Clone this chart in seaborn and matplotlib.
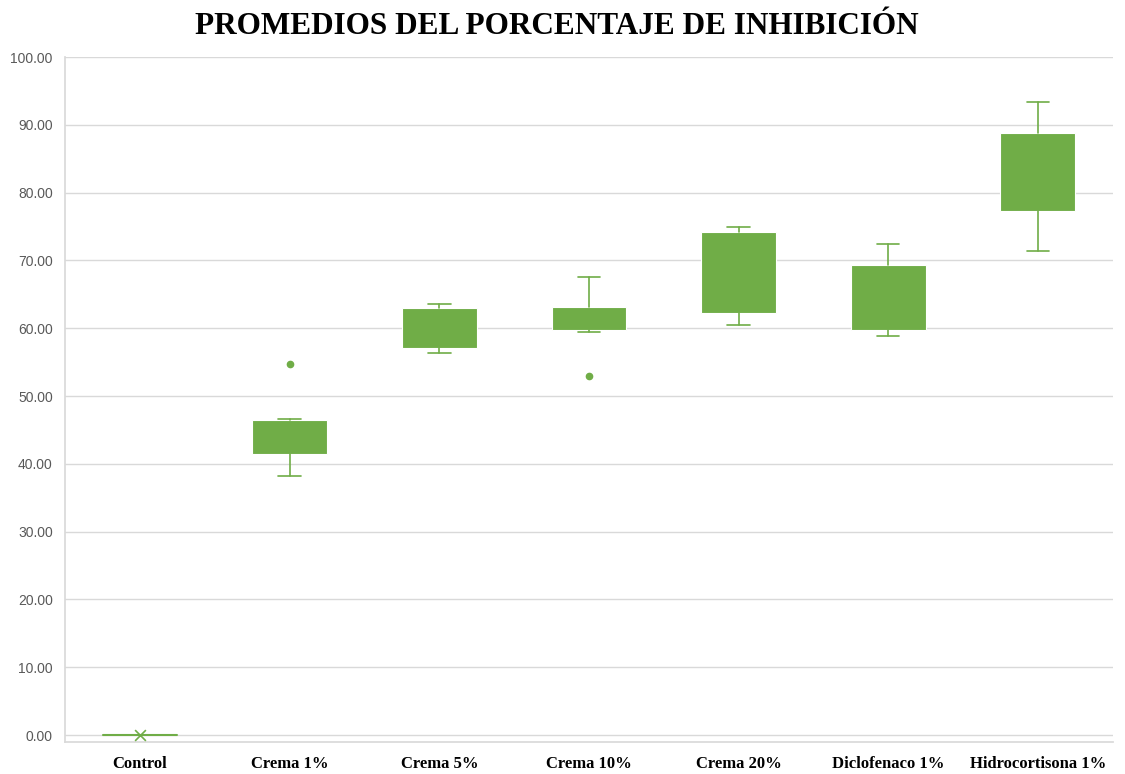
import matplotlib
matplotlib.use("Agg")
import matplotlib.pyplot as plt
import seaborn as sns

# Five-number summaries (Excel box & whisker)
groups = ["Control", "Crema 1%", "Crema 5%", "Crema 10%", "Crema 20%",
          "Diclofenaco 1%", "Hidrocortisona 1%"]
whis_low = [0.0, 38.2, 56.3, 59.4, 60.5, 58.8, 71.4]
q1 = [0.0, 41.4, 57.1, 59.7, 62.2, 59.7, 77.3]
median = [0.0, 44.0, 60.0, 61.5, 68.0, 64.0, 83.0]
q3 = [0.0, 46.5, 63.0, 63.1, 74.2, 69.3, 88.8]
whis_high = [0.0, 46.6, 63.6, 67.6, 74.9, 72.4, 93.4]
outliers = [[], [54.7], [], [52.9], [], [], []]
control_mean = [0.0]

green = "#70AD47"

sns.set_theme(style="white")
plt.rcParams['font.family'] = ['Liberation Serif', 'DejaVu Serif']

stats = []
for i, g in enumerate(groups):
    stats.append(dict(label=g, whislo=whis_low[i], q1=q1[i], med=median[i],
                      q3=q3[i], whishi=whis_high[i], fliers=outliers[i]))

fig = plt.figure(figsize=(11.25, 7.74), dpi=100)
ax = fig.add_axes([0.058, 0.0413, 0.931, 0.885])

ax.bxp(stats, positions=range(len(groups)), widths=0.5, capwidths=0.15,
       patch_artist=True, showfliers=True,
       boxprops=dict(facecolor=green, edgecolor="white", linewidth=0.8),
       medianprops=dict(color=green, linewidth=0),
       whiskerprops=dict(color=green, linewidth=1.2),
       capprops=dict(color=green, linewidth=1.2),
       flierprops=dict(marker="o", markerfacecolor=green, markeredgecolor=green,
                       markersize=4.5))

# Control collapses to a flat line with the mean marker
ax.plot([-0.25, 0.25], [q1[0], q3[0]], color=green, lw=1.5, zorder=3)
ax.scatter([0], control_mean, marker="x", color=green, s=60, linewidths=1.2, zorder=4)

ax.set_xlim(-0.5, len(groups) - 0.5)
ax.set_ylim(-1.03, 100)
ax.set_yticks(range(0, 101, 10))
ax.set_yticklabels([f"{v:.2f}" for v in range(0, 101, 10)],
                   fontsize=10, color="#595959", family="Liberation Sans")
ax.set_xticks(range(len(groups)))
ax.set_xticklabels(groups, fontsize=12, fontweight="bold", color="black")
ax.tick_params(axis="x", length=0, pad=10)
ax.tick_params(axis="y", length=0, pad=9)

ax.yaxis.grid(True, color="#D9D9D9", linewidth=1)
ax.set_axisbelow(True)
for s in ["top", "right"]:
    ax.spines[s].set_visible(False)
ax.spines["left"].set_color("#D9D9D9")
ax.spines["bottom"].set_color("#D9D9D9")

fig.suptitle("PROMEDIOS DEL PORCENTAJE DE INHIBICIÓN", fontsize=22.5,
             fontweight="bold", color="black", x=0.495, y=0.985)

fig.savefig("out.png", dpi=100)
